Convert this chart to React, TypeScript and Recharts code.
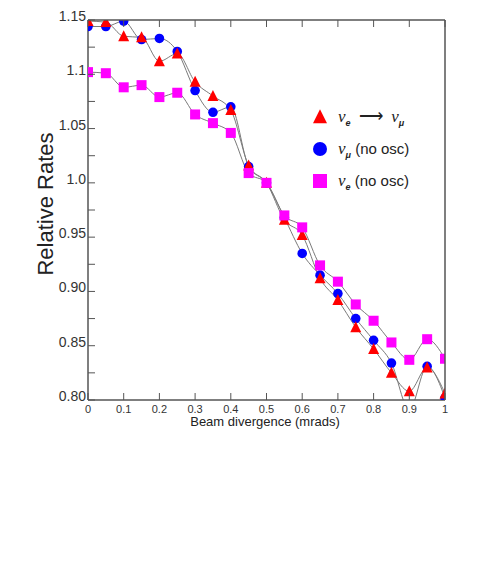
import { ComposedChart, Line, XAxis, YAxis, Legend } from 'recharts';

// beam divergence (mrad) and relative rates
const divergence = [0, 0.05, 0.1, 0.15, 0.2, 0.25, 0.3, 0.35, 0.4, 0.45, 0.5, 0.55, 0.6, 0.65, 0.7, 0.75, 0.8, 0.85, 0.9, 0.95, 1.0];
const nueToNumu = [1.149, 1.148, 1.135, 1.134, 1.112, 1.119, 1.093, 1.080, 1.067, 1.016, 1.0, 0.966, 0.952, 0.912, 0.892, 0.867, 0.847, 0.825, 0.808, 0.830, 0.806];
const numuNoOsc = [1.144, 1.144, 1.149, 1.132, 1.133, 1.121, 1.085, 1.065, 1.070, 1.015, 1.0, 0.968, 0.935, 0.915, 0.898, 0.875, 0.855, 0.834, 0.791, 0.831, 0.802];
const nueNoOsc  = [1.102, 1.101, 1.088, 1.090, 1.079, 1.083, 1.063, 1.055, 1.046, 1.009, 1.0, 0.970, 0.959, 0.924, 0.909, 0.888, 0.873, 0.853, 0.837, 0.856, 0.838];

const xTicks = [0, 0.1, 0.2, 0.3, 0.4, 0.5, 0.6, 0.7, 0.8, 0.9, 1];
const xTickLabels = ['0', '0.1', '0.2', '0.3', '0.4', '0.5', '0.6', '0.7', '0.8', '0.9', '1'];
const yTicks = [0.8, 0.825, 0.85, 0.875, 0.9, 0.925, 0.95, 0.975, 1.0, 1.025, 1.05, 1.075, 1.1, 1.125, 1.15];
const yTickLabels: Record<string, string> = {
  '0.8': '0.80', '0.85': '0.85', '0.9': '0.90', '0.95': '0.95',
  '1': '1.0', '1.05': '1.05', '1.1': '1.1', '1.15': '1.15',
};

const data = divergence.map((x, i) => ({
  x,
  tri: nueToNumu[i],
  circ: numuNoOsc[i],
  sq: nueNoOsc[i],
}));

const W = 485, H = 570;
const PL = 88, PR = 445, PT = 20, PB = 400;
const FONT = '"Liberation Sans", Arial, sans-serif';
const AXIS = '#555';
const TICK = 7;

const RED = '#ff0000', BLUE = '#0000ff', MAGENTA = '#ff00ff';

const triPts = (cx: number, cy: number, s: number) =>
  `${cx},${cy - s * 0.55} ${cx - s / 2},${cy + s * 0.45} ${cx + s / 2},${cy + s * 0.45}`;

const TriDot = (p: any) =>
  p.cx == null ? null : <polygon points={triPts(p.cx, p.cy, 11)} fill={RED} />;
const CircDot = (p: any) =>
  p.cx == null ? null : <circle cx={p.cx} cy={p.cy} r={4.8} fill={BLUE} />;
const SqDot = (p: any) =>
  p.cx == null ? null : <rect x={p.cx - 5} y={p.cy - 5} width={10} height={10} fill={MAGENTA} />;

const YLeftTick = (p: any) => {
  const v = Number(Number(p.payload.value).toFixed(3));
  const lab = yTickLabels[String(v)];
  return (
    <g>
      <line x1={PL} x2={PL + TICK} y1={p.y} y2={p.y} stroke={AXIS} strokeWidth={1} />
      {lab && (
        <text x={PL - 2} y={p.y + 1} textAnchor="end" fontSize={14} fill="#333" fontFamily={FONT}>{lab}</text>
      )}
    </g>
  );
};

const YRightTick = (p: any) => (
  <line x1={PR} x2={PR - TICK} y1={p.y} y2={p.y} stroke={AXIS} strokeWidth={1} />
);

const XBottomTick = (p: any) => (
  <g>
    <line x1={p.x} x2={p.x} y1={PB} y2={PB - TICK} stroke={AXIS} strokeWidth={1} />
    <text x={p.x} y={PB + 13} textAnchor="middle" fontSize={11} fill="#333" fontFamily={FONT}>
      {xTickLabels[p.index]}
    </text>
  </g>
);

const XTopTick = (p: any) => (
  <line x1={p.x} x2={p.x} y1={PT} y2={PT + TICK} stroke={AXIS} strokeWidth={1} />
);

const Nu = ({ sub }: { sub: string }) => (
  <span>
    <span style={{ fontStyle: 'italic', fontFamily: 'serif', fontSize: 17 }}>ν</span>
    <sub style={{ fontSize: 9, fontWeight: 'bold', fontStyle: 'italic' }}>{sub}</sub>
  </span>
);

const legendRows = [
  { marker: <polygon points={triPts(8, 8, 14)} fill={RED} />, label: <span><Nu sub="e" />&nbsp;&nbsp;<span style={{ fontSize: 17 }}>⟶</span>&nbsp;&nbsp;<Nu sub="μ" /></span> },
  { marker: <circle cx={8} cy={8} r={7} fill={BLUE} />, label: <span><Nu sub="μ" /> (no osc)</span> },
  { marker: <rect x={1} y={1} width={14} height={14} fill={MAGENTA} />, label: <span><Nu sub="e" /> (no osc)</span> },
];

const LegendBox = () => (
  <div style={{ fontFamily: FONT, fontSize: 15, color: '#222' }}>
    {legendRows.map((r, i) => (
      <div key={i} style={{ display: 'flex', alignItems: 'center', height: 32 }}>
        <svg width={16} height={16} style={{ marginRight: 10 }}>{r.marker}</svg>
        {r.label}
      </div>
    ))}
  </div>
);

const YW = 40, XH = 20;

export default function App() {
  return (
    <div style={{ position: 'absolute', left: 0, top: 0, width: W, height: H, background: '#fff' }}>
      <ComposedChart
        width={W}
        height={H}
        data={data}
        margin={{ top: PT - 1, right: W - PR - 1, bottom: H - PB - XH, left: PL - YW }}
      >
        <XAxis
          dataKey="x" type="number" domain={[0, 1]} ticks={xTicks} allowDataOverflow
          height={XH} axisLine={{ stroke: AXIS, strokeWidth: 1.5 }} tickLine={false} tick={XBottomTick}
          interval={0}
        />
        <XAxis
          xAxisId="top" orientation="top" dataKey="x" type="number" domain={[0, 1]} ticks={xTicks}
          height={1} axisLine={false} tickLine={false} tick={XTopTick}
          interval={0}
        />
        <YAxis
          type="number" domain={[0.8, 1.15]} ticks={yTicks} allowDataOverflow width={YW}
          axisLine={{ stroke: AXIS, strokeWidth: 1.5 }} tickLine={false} tick={YLeftTick} interval={0}
        />
        <YAxis
          yAxisId="right" orientation="right" type="number" domain={[0.8, 1.15]} ticks={yTicks} width={1}
          axisLine={false} tickLine={false} tick={YRightTick} interval={0}
        />

        <Line type="monotone" dataKey="circ" stroke="#7a7a7a" strokeWidth={1} dot={false} isAnimationActive={false} legendType="none" />
        <Line type="monotone" dataKey="tri" stroke="#7a7a7a" strokeWidth={1} dot={false} isAnimationActive={false} legendType="none" />
        <Line type="monotone" dataKey="sq" stroke="#7a7a7a" strokeWidth={1} dot={false} isAnimationActive={false} legendType="none" />

        <Line dataKey="circ" stroke="none" dot={CircDot} isAnimationActive={false} legendType="none" />
        <Line dataKey="tri" stroke="none" dot={TriDot} isAnimationActive={false} legendType="none" />
        <Line dataKey="sq" stroke="none" dot={SqDot} isAnimationActive={false} legendType="none" />

        <Legend
          layout="vertical" align="center" verticalAlign="middle"
          content={LegendBox}
          wrapperStyle={{ position: 'absolute', left: 312, top: 101, width: 170 }}
        />
      </ComposedChart>

      <svg width={W} height={H} style={{ position: 'absolute', left: 0, top: 0, pointerEvents: 'none' }}>
        <line x1={PL} x2={PR} y1={PT} y2={PT} stroke={AXIS} strokeWidth={1.5} />
        <line x1={PR} x2={PR} y1={PT} y2={PB} stroke={AXIS} strokeWidth={1.5} />
      </svg>

      <div style={{ position: 'absolute', left: 0, top: 414, width: 530, textAlign: 'center', fontFamily: FONT, fontSize: 13, color: '#222' }}>
        Beam divergence (mrads)
      </div>
      <div
        style={{
          position: 'absolute', left: 46, top: 204, transform: 'translate(-50%, -50%) rotate(-90deg)',
          fontFamily: FONT, fontSize: 22, color: '#222', whiteSpace: 'nowrap',
        }}
      >
        Relative Rates
      </div>
    </div>
  );
}
